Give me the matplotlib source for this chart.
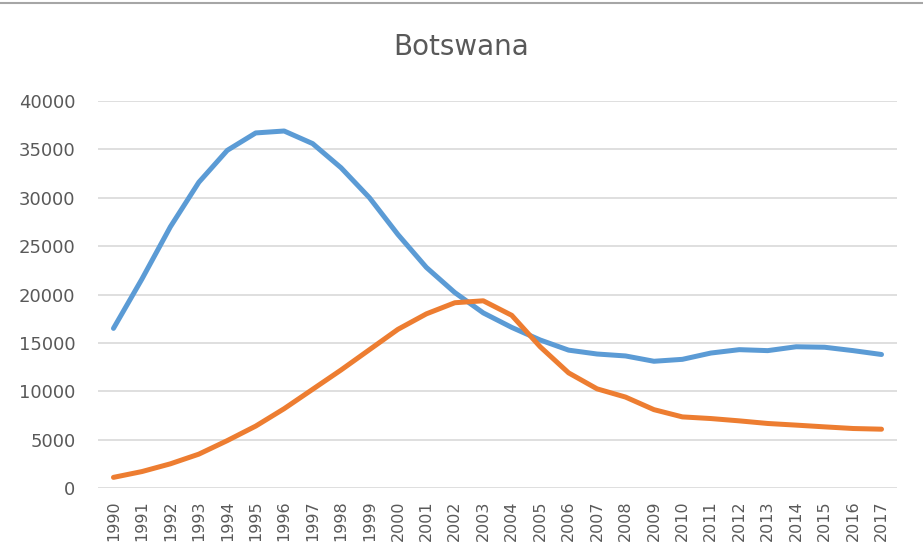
import matplotlib.pyplot as plt
from matplotlib.lines import Line2D

years = list(range(1990, 2018))
blue = [16500, 21600, 27000, 31600, 34900, 36700, 36900, 35600, 33100, 30000,
        26200, 22800, 20200, 18100, 16600, 15300, 14250, 13850, 13650, 13100,
        13300, 13950, 14300, 14200, 14600, 14550, 14200, 13800]
orange = [1100, 1700, 2500, 3500, 4900, 6400, 8200, 10200, 12200, 14300,
          16400, 18000, 19150, 19350, 17850, 14600, 11900, 10250, 9400, 8100,
          7350, 7180, 6940, 6670, 6500, 6320, 6150, 6080]

fig = plt.figure(figsize=(9.23, 5.55), dpi=100)
ax = fig.add_axes([0.106, 0.1207, 0.866, 0.6973])

ax.plot(years, blue, color='#5B9BD5', linewidth=3.6, solid_capstyle='round', solid_joinstyle='round')
ax.plot(years, orange, color='#ED7D31', linewidth=3.6, solid_capstyle='round', solid_joinstyle='round')

ax.set_ylim(0, 40000)
ax.set_yticks(range(0, 40001, 5000))
ax.set_xlim(1989.45, 2017.55)
ax.set_xticks(years)
ax.set_xticklabels([str(y) for y in years], rotation=90)
ax.tick_params(axis='both', length=0, colors='#595959')
ax.tick_params(axis='x', pad=9, labelsize=11.5)
ax.tick_params(axis='y', pad=16, labelsize=13)
ax.grid(axis='y', color='#d9d9d9', linewidth=1.2)
ax.set_axisbelow(True)
for s in ax.spines.values():
    s.set_visible(False)

fig.text(0.5, 0.915, 'Botswana', ha='center', va='center', fontsize=20, color='#595959')
fig.add_artist(Line2D([0, 1], [0.995, 0.995], color='#a6a6a6', linewidth=1.5, transform=fig.transFigure))

fig.savefig('out.png', dpi=100)
